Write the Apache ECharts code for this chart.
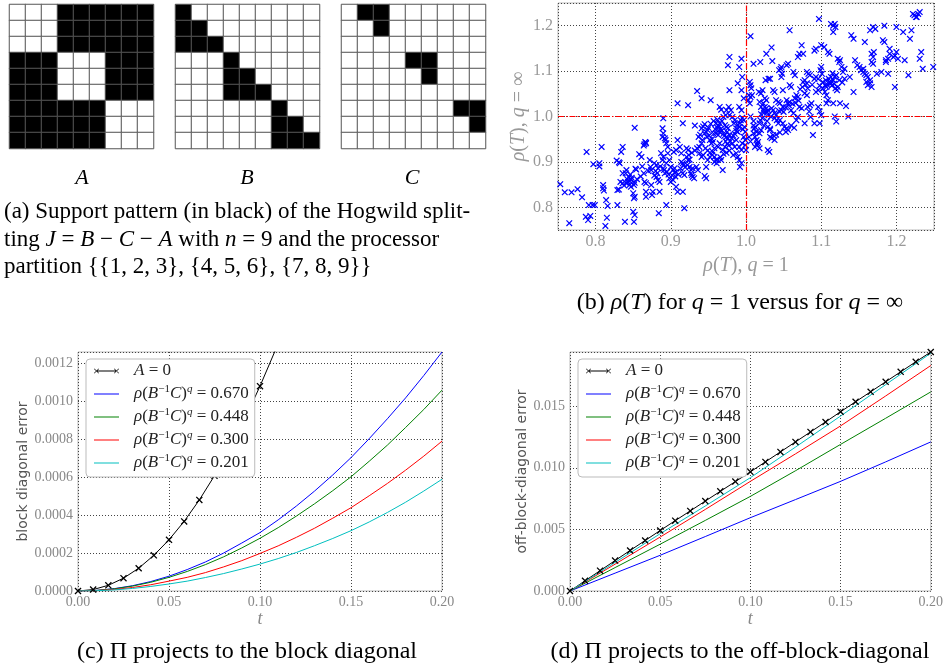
<!DOCTYPE html>
<html><head><meta charset="utf-8">
<script src="https://cdn.jsdelivr.net/npm/echarts@6/dist/echarts.min.js"></script>
<style>html,body{margin:0;padding:0;background:#fff}#c{width:946px;height:671px}</style>
</head><body><div id="c"></div>
<script>
// ---------- (a) support patterns ----------
const matA = ['000111111','000111111','000111111','111000111','111000111','111000111','111111000','111111000','111111000'];
const matB = ['100000000','110000000','111000000','000100000','000110000','000111000','000000100','000000110','000000111'];
const matC = ['011000000','001000000','000000000','000011000','000001000','000000000','000000011','000000001','000000000'];
const matrixIdx = ['1','2','3','4','5','6','7','8','9'];
const matrixNames = ['A','B','C'];

// ---------- (b) rho(T) scatter: [q=1, q=inf] ----------
const rhoLow = [[0.753,0.851],[0.759,0.833],[0.768,0.833],[0.765,0.765],[0.776,0.840],[0.782,0.822],[0.787,0.779],[0.790,0.772],[0.793,0.781],[0.788,0.922],[0.791,0.805],[0.796,0.805],[0.799,0.805],[0.797,0.895],[0.805,0.890],[0.805,0.897],[0.808,0.933],[0.810,0.849],[0.810,0.842],[0.811,0.837],[0.814,0.816],[0.816,0.803],[0.815,0.777],[0.813,0.759],
[0.828,0.903],[0.831,0.899],[0.832,0.897],[0.829,0.838],[0.831,0.839],[0.829,0.805],[0.834,0.922],[0.836,0.933],[0.836,0.875],[0.840,0.875],[0.833,0.856],[0.836,0.853],[0.840,0.854],[0.843,0.856],[0.839,0.768],[0.841,0.882],[0.844,0.867],[0.847,0.860],[0.845,0.849],[0.847,0.845],[0.851,0.849],[0.852,0.854],[0.850,0.831],[0.851,0.820],[0.852,0.823],[0.850,0.790],[0.852,0.783],[0.851,0.768],[0.852,0.975],[0.853,0.885],[0.854,0.883],
[0.858,0.917],[0.861,0.911],[0.864,0.936],[0.867,0.941],[0.867,0.942],[0.866,0.944],[0.865,0.939],[0.864,0.875],[0.865,0.856],[0.867,0.853],[0.867,0.834],[0.867,0.823],[0.872,0.904],[0.873,0.889],[0.874,0.882],[0.874,0.849],[0.875,0.827],[0.876,0.834],[0.878,0.897],[0.881,0.893],[0.881,0.867],[0.882,0.875],[0.883,0.886],[0.883,0.860],[0.885,0.856],[0.885,0.834],[0.884,0.787],[0.887,0.919],[0.889,0.904],[0.890,0.911]];
const rhoMidLow = [[0.889,0.974],[0.890,0.996],[0.890,0.963],[0.889,0.955],[0.892,0.952],[0.893,0.948],[0.890,0.886],[0.891,0.882],[0.892,0.875],[0.894,0.941],[0.896,0.933],[0.894,0.897],[0.896,0.919],[0.898,0.904],[0.898,0.864],[0.900,0.856],[0.903,0.860],[0.894,0.805],[0.900,0.889],[0.903,0.882],[0.905,0.886],[0.907,0.878],[0.905,0.876],[0.904,0.922],[0.907,0.926],[0.909,0.948],[0.907,0.845],[0.909,0.834],[0.912,0.933],[0.914,0.919],[0.914,0.900],[0.916,0.897],[0.917,0.893],[0.916,0.875],[0.918,0.871],[0.921,0.930],[0.923,0.926],[0.921,0.911],[0.923,0.904],[0.925,0.905],[0.925,0.889],[0.927,0.882],[0.929,0.886],[0.928,0.871],[0.929,0.867],[0.927,0.875],[0.931,0.864],[0.916,0.834],[0.918,0.798],[0.909,1.029],[0.923,1.025],[0.916,0.985]];
const rhoMid = [[0.932,0.980],[0.935,1.056],[0.941,1.040],[0.938,0.933],[0.941,0.941],[0.942,0.948],[0.938,0.919],[0.941,0.911],[0.943,0.915],[0.934,0.889],[0.936,0.882],[0.943,0.978],[0.945,0.983],[0.941,0.974],[0.945,0.963],[0.947,0.966],[0.949,0.970],[0.947,0.889],[0.949,0.904],[0.952,0.911],[0.945,0.869],[0.947,0.864],[0.953,1.036],[0.952,0.948],[0.954,0.941],[0.956,0.944],[0.956,0.922],[0.958,0.930],[0.958,0.911],[0.960,0.904],[0.961,0.897],[0.960,0.985],[0.963,0.981],[0.965,0.985],[0.960,0.963],[0.963,0.959],[0.965,0.966],[0.963,0.933],[0.965,0.941],[0.965,1.021],[0.967,1.015],[0.967,0.904],[0.969,0.882],[0.969,0.926],[0.972,0.933],[0.970,0.999],[0.973,1.003],[0.974,1.014],[0.972,0.981],[0.974,0.977],[0.976,0.974],[0.975,0.966],[0.974,0.955],[0.976,0.952],[0.978,0.959],[0.978,1.003],[0.980,1.014],[0.977,1.021],[0.978,1.058],[0.976,1.113],[0.978,1.131],[0.982,0.999],[0.985,0.992],[0.984,0.985],[0.982,0.941],[0.985,0.933],[0.987,0.948],[0.987,0.919],[0.989,0.911],[0.987,0.974],[0.989,0.966],[0.991,0.977],[0.989,1.073],[0.994,1.058],[0.991,1.109],[0.991,1.021],[0.994,1.014],[0.991,0.933],[0.994,0.926],[0.995,0.941],[0.994,1.127],[0.995,1.087],[0.991,0.904],[0.994,0.897],[0.992,0.889],[0.997,0.992],[0.998,0.977],[0.999,0.966],[0.997,0.955],[0.999,0.948],[0.997,1.040],[1.000,0.926],[0.999,0.937]];
const rhoMidHigh = [[1.006,1.177],[1.005,1.076],[1.006,1.069],[1.007,1.062],[1.004,1.047],[1.006,1.043],[1.008,1.047],[1.003,1.036],[1.005,1.029],[1.010,1.116],[1.010,0.980],[1.011,0.973],[1.012,0.977],[1.014,0.966],[1.010,0.963],[1.012,0.955],[1.014,0.948],[1.015,0.941],[1.016,0.944],[1.012,0.933],[1.015,0.937],[1.018,0.930],[1.019,1.120],[1.017,1.054],[1.020,1.051],[1.022,1.058],[1.018,0.985],[1.019,0.992],[1.022,0.996],[1.018,0.963],[1.020,0.970],[1.018,1.032],[1.023,1.029],[1.020,1.021],[1.023,1.014],[1.025,1.021],[1.027,1.018],[1.029,1.014],[1.025,1.040],[1.027,1.036],[1.026,1.080],[1.030,1.083],[1.032,1.083],[1.027,1.138],[1.029,0.977],[1.032,0.970],[1.032,0.973],[1.029,0.926],[1.031,0.922],[1.034,1.152],[1.035,1.122],[1.034,1.018],[1.036,1.014],[1.038,1.007],[1.032,0.955],[1.034,0.952],[1.036,0.959],[1.038,0.948],[1.036,1.058],[1.038,1.054],[1.038,0.996],[1.040,1.003],[1.041,0.992],[1.040,1.036],[1.043,1.032],[1.045,1.029],[1.043,0.985],[1.045,0.992],[1.044,1.102],[1.046,1.105],[1.047,1.109],[1.047,1.087],[1.048,1.094],[1.047,1.014],[1.049,1.021],[1.049,0.985],[1.051,0.977],[1.054,0.974],[1.053,0.966],[1.056,0.970],[1.049,1.058],[1.054,1.113],[1.056,1.116],[1.054,1.036],[1.056,1.029],[1.058,1.032],[1.058,1.190],[1.058,1.069],[1.060,1.065],[1.060,1.014],[1.063,1.007],[1.063,1.098],[1.065,1.091],[1.065,1.040],[1.067,1.047],[1.069,1.043],[1.069,1.131],[1.071,1.138],[1.074,1.157],[1.067,0.992],[1.069,0.999],[1.071,1.021],[1.074,1.018],[1.076,1.138],[1.078,0.985],[1.076,1.076],[1.078,1.080],[1.081,1.073],[1.078,1.051],[1.081,1.047],[1.081,1.098],[1.083,1.094],[1.085,1.091],[1.082,1.021],[1.085,1.025],[1.087,1.029],[1.084,1.011],[1.086,0.999],[1.089,0.959],[1.091,0.985]];
const rhoHigh = [[1.091,1.145],[1.093,1.149],[1.091,1.083],[1.093,1.087],[1.096,1.083],[1.093,1.054],[1.096,1.058],[1.096,1.021],[1.098,1.011],[1.097,1.215],[1.098,0.985],[1.100,1.003],[1.099,1.102],[1.100,1.109],[1.101,1.094],[1.100,1.157],[1.104,1.153],[1.102,1.076],[1.105,1.069],[1.107,1.065],[1.106,1.080],[1.105,1.054],[1.107,1.047],[1.107,1.029],[1.109,1.036],[1.110,1.083],[1.111,1.076],[1.113,1.087],[1.113,1.073],[1.116,1.080],[1.109,1.142],[1.111,1.138],[1.113,1.204],[1.116,1.200],[1.118,1.204],[1.119,1.197],[1.116,1.186],[1.116,1.029],[1.118,1.000],[1.118,1.087],[1.120,1.091],[1.119,1.062],[1.121,1.058],[1.122,1.065],[1.122,1.127],[1.124,1.120],[1.125,1.124],[1.125,1.029],[1.120,0.989],[1.127,1.109],[1.129,1.098],[1.131,1.105],[1.131,1.083],[1.133,1.023],[1.136,1.000],[1.138,1.087],[1.140,1.179],[1.143,1.171],[1.143,1.054],[1.145,1.124],[1.148,1.113],
[1.151,1.109],[1.153,1.102],[1.156,1.105],[1.156,1.098],[1.158,1.094],[1.160,1.091],[1.162,1.087],[1.165,1.080],[1.158,1.164],[1.160,1.076],[1.162,1.069],[1.165,1.073],[1.167,1.065],[1.165,1.190],[1.169,1.197],[1.172,1.193],[1.167,1.138],[1.169,1.131],[1.170,1.142],[1.167,1.120],[1.169,1.116],[1.174,1.094],[1.180,1.098],[1.182,1.168],[1.184,1.164],[1.184,1.200],[1.186,1.120],[1.186,1.124],[1.189,1.127],[1.191,1.138],[1.189,1.094],[1.191,1.149],[1.196,1.131],[1.198,1.134],[1.200,1.142],[1.202,1.127],[1.198,1.065],[1.200,1.197],[1.209,1.186],[1.211,1.124],[1.216,1.091],[1.218,1.171],[1.220,1.190],[1.222,1.226],[1.224,1.223],[1.226,1.219],[1.229,1.226],[1.231,1.230],[1.227,1.219],[1.231,1.127],[1.233,1.142],[1.235,1.105],[1.249,1.109]];
const rhoDense = [[0.948,0.955],[0.951,0.958],[0.955,0.950],[0.957,0.962],[0.959,0.972],[0.962,0.975],[0.964,0.978],[0.966,0.972],[0.968,0.969],[0.970,0.962],[0.971,0.957],[0.973,0.945],[0.975,0.940],[0.977,0.936],[0.979,0.945],[0.981,0.952],[0.983,0.958],[0.985,0.962],[0.987,0.968],[0.989,0.982],[0.992,0.985],[0.993,0.992],[0.995,0.997],[0.996,0.972],[0.968,0.990],[0.962,0.993],[0.957,0.990],[0.953,0.984],[0.950,0.975],[0.946,0.930],[0.949,0.925],[0.952,0.920],[0.955,0.915],[0.958,0.900],[0.962,0.905],[0.966,0.910],[0.970,0.918],[0.974,0.920],[0.978,0.925],[0.983,0.915],
[0.842,0.862],[0.845,0.858],[0.848,0.865],[0.838,0.848],[0.846,0.872],[0.855,0.862],[0.860,0.868],[0.862,0.890],[0.870,0.880],[0.878,0.870],[0.880,0.880],[0.886,0.890],[0.895,0.878],[0.897,0.872],[0.902,0.870],[0.906,0.868],[0.910,0.872],[0.913,0.885],[0.919,0.888],[0.922,0.893],[0.924,0.915],[0.928,0.920],[0.932,0.925],[0.935,0.930],[0.937,0.955],[0.939,0.960],
[1.020,1.005],[1.024,1.008],[1.028,1.010],[1.030,1.003],[1.033,1.000],[1.028,0.990],[1.024,0.980],[1.044,1.012],[1.050,1.010],[1.053,1.020],[1.057,1.025],[1.062,1.028],[1.066,1.030],[1.070,1.035],[1.072,1.060],[1.075,1.065],[1.079,1.070],[1.082,1.062],[1.088,1.070],[1.098,1.068],[1.102,1.062],[1.108,1.070],[1.112,1.075],[1.114,1.068],[1.117,1.072],[1.115,1.095],[1.124,1.080],[1.128,1.075],[1.060,0.980],[1.064,0.975],[1.040,0.960],[1.045,0.965],[1.010,0.990],[1.006,1.000],[1.004,0.955],[1.006,0.945]];
const rhoRef = 1.0;
const rhoTicks = ['0.8','0.9','1.0','1.1','1.2'];

// ---------- (c) block diagonal error ----------
const tMarked = [0,0.00833,0.01667,0.025,0.03333,0.04167,0.05,0.05833,0.06667,0.075,0.08333,0.09167,0.1,0.10833,0.11667,0.125,0.13333,0.14167,0.15,0.15833,0.16667,0.175,0.18333,0.19167,0.2];
const blockA0 = [0,0.0000075,0.00003,0.0000675,0.00012,0.000188,0.00027,0.000367,0.00048,0.000608,0.00075,0.000907,0.00108,0.001267];
const tC = [0,0.01,0.02,0.03,0.04,0.05,0.06,0.07,0.08,0.09,0.1,0.11,0.12,0.13,0.14,0.15,0.16,0.17,0.18,0.19,0.2];
const block670 = [0,0.0000031,0.0000125,0.000028,0.00005,0.000078,0.000113,0.000153,0.0002,0.000253,0.000308,0.000375,0.000448,0.000527,0.000612,0.000703,0.000803,0.000908,0.001018,0.001136,0.00126];
const block448 = [0,0.0000029,0.0000116,0.000026,0.000046,0.000072,0.000103,0.000139,0.00018,0.000227,0.000278,0.000334,0.000395,0.00046,0.000529,0.000602,0.000684,0.000769,0.000862,0.000957,0.001059];
const block300 = [0,0.0000021,0.0000083,0.0000185,0.000033,0.000052,0.000072,0.000097,0.000127,0.00016,0.000198,0.000238,0.000283,0.000331,0.000384,0.000439,0.000502,0.000567,0.000637,0.000711,0.00079];
const block201 = [0,0.0000015,0.000006,0.0000135,0.000024,0.000037,0.000052,0.000071,0.000092,0.000116,0.000142,0.000171,0.000203,0.000239,0.000277,0.000318,0.000364,0.000414,0.000468,0.000527,0.000589];

// ---------- (d) off-block-diagonal error ----------
const offA0 = [0,0.00083,0.00165,0.00247,0.00329,0.0041,0.00491,0.00571,0.0065,0.0073,0.00809,0.00888,0.00967,0.01048,0.01129,0.0121,0.01291,0.01372,0.01455,0.01536,0.01617,0.01698,0.01779,0.0186,0.0194];
const tD = [0,0.025,0.05,0.075,0.1,0.125,0.15,0.175,0.2];
const off670 = [0,0.00145,0.0029,0.00442,0.00595,0.00742,0.0089,0.01048,0.0121];
const off448 = [0,0.0019,0.0038,0.00573,0.00768,0.00976,0.0119,0.01402,0.01616];
const off300 = [0,0.00218,0.00438,0.00662,0.0089,0.01113,0.0134,0.01583,0.0183];
const off201 = [0,0.00232,0.00465,0.0069,0.0092,0.01168,0.0142,0.01675,0.0193];

const legendKeys = ['A0','r670','r448','r300','r201'];
const legendLabels = {
  A0: '{i|A}{r| = 0}',
  r670: '{i|ρ}{r|(}{i|B}{s|−1}{i|C}{r|)}{si|q}{r| = 0.670}',
  r448: '{i|ρ}{r|(}{i|B}{s|−1}{i|C}{r|)}{si|q}{r| = 0.448}',
  r300: '{i|ρ}{r|(}{i|B}{s|−1}{i|C}{r|)}{si|q}{r| = 0.300}',
  r201: '{i|ρ}{r|(}{i|B}{s|−1}{i|C}{r|)}{si|q}{r| = 0.201}'
};
const lineColors = {r670:'#0000ff', r448:'#008000', r300:'#ff0000', r201:'#00bfbf'};

// ---------- build ----------
const SERIF = 'Liberation Serif';
const X_SYM = 'path://M0,1.3L1.3,0L10,8.7L8.7,10Z M0,8.7L8.7,0L10,1.3L1.3,10Z';
const X_LINE_ICON = 'path://M0,0.4L0.4,0L5,4.6L4.6,5Z M0,4.6L4.6,0L5,0.4L0.4,5Z M20,0.4L20.4,0L25,4.6L24.6,5Z M20,4.6L24.6,0L25,0.4L20.4,5Z M2.5,2.1L22.5,2.1L22.5,2.9L2.5,2.9Z';
const LINE_ICON = 'path://M0,0L25,0L25,1L0,1Z';

function cells(m){const d=[];m.forEach((row,r)=>{for(let c=0;c<9;c++)d.push([c,r,+row[c]]);});return d;}
function pairs(xs,ys){return ys.map((y,i)=>[xs[i],y]);}

const grids = [
  {left:9.5,top:4.5,width:144,height:144},
  {left:175.5,top:4.5,width:144,height:144},
  {left:341.5,top:4.5,width:144,height:144},
  {left:558,top:3,width:376,height:227, show:true, borderColor:'#bbb', borderWidth:1},
  {left:78,top:352,width:364,height:239, show:true, borderColor:'#bbb', borderWidth:1},
  {left:570,top:352,width:364,height:239, show:true, borderColor:'#bbb', borderWidth:1}
];
grids.forEach(g=>{ if(!g.show){g.show=false;} g.containLabel=false; });

const gridLine = {show:true, lineStyle:{color:'#444', width:1, type:[1,2]}};
const richName = (size,color)=>({
  i:{fontFamily:SERIF,fontStyle:'italic',fontSize:size,color:color},
  r:{fontFamily:SERIF,fontSize:size,color:color}
});

const xAxes = [], yAxes = [];
for(let k=0;k<3;k++){
  xAxes.push({gridIndex:k,type:'category',data:matrixIdx,axisLine:{show:false},axisTick:{show:false},axisLabel:{show:false},splitLine:{show:false}});
  yAxes.push({gridIndex:k,type:'category',data:matrixIdx,inverse:true,axisLine:{show:false},axisTick:{show:false},axisLabel:{show:false},splitLine:{show:false}});
}
const tenth = v => Math.abs(v*10-Math.round(v*10))<1e-6 && rhoTicks.indexOf(v.toFixed(1))>=0 ? v.toFixed(1) : '';
xAxes.push({gridIndex:3,type:'value',min:0.75,max:1.25,splitNumber:5,minInterval:0.1,maxInterval:0.1,
  axisLine:{show:false},axisTick:{show:false},splitLine:gridLine,
  axisLabel:{formatter:tenth,color:'#999',fontFamily:SERIF,fontSize:16,margin:4},
  name:'{i|ρ}{r|(}{i|T}{r|), }{i|q}{r| = 1}',nameLocation:'middle',nameGap:26,
  nameTextStyle:{fontFamily:SERIF,fontSize:20,color:'#999',rich:richName(20,'#999')}});
yAxes.push({gridIndex:3,type:'value',min:0.75,max:1.25,splitNumber:5,minInterval:0.1,maxInterval:0.1,
  axisLine:{show:false},axisTick:{show:false},splitLine:gridLine,
  axisLabel:{formatter:tenth,color:'#999',fontFamily:SERIF,fontSize:16,margin:5},
  name:'{i|ρ}{r|(}{i|T}{r|), }{i|q}{r| = ∞}',nameLocation:'middle',nameRotate:90,nameGap:22,
  nameTextStyle:{fontFamily:SERIF,fontSize:20,color:'#999',rich:richName(20,'#999')}});

function tAxis(gi){
  return {gridIndex:gi,type:'value',min:0,max:0.2,interval:0.05,
    axisLine:{show:false},axisTick:{show:false},splitLine:gridLine,
    axisLabel:{formatter:v=>v.toFixed(2),color:'#888',fontFamily:SERIF,fontSize:14,margin:4},
    name:'t',nameLocation:'middle',nameGap:19,
    nameTextStyle:{fontFamily:SERIF,fontStyle:'italic',fontSize:18,color:'#888'}};
}
xAxes.push(tAxis(4)); xAxes.push(tAxis(5));
yAxes.push({gridIndex:4,type:'value',min:0,max:0.00126,interval:0.0002,
  axisLine:{show:false},axisTick:{show:false},splitLine:gridLine,
  axisLabel:{formatter:v=>v.toFixed(4),color:'#888',fontFamily:SERIF,fontSize:14,margin:5,showMaxLabel:false},
  name:'block diagonal error',nameLocation:'middle',nameRotate:90,nameGap:45,
  nameTextStyle:{fontFamily:'DejaVu Sans',fontSize:14,color:'#555'}});
yAxes.push({gridIndex:5,type:'value',min:0,max:0.0194,interval:0.005,
  axisLine:{show:false},axisTick:{show:false},splitLine:gridLine,
  axisLabel:{formatter:v=>v.toFixed(3),color:'#888',fontFamily:SERIF,fontSize:14,margin:5,showMaxLabel:false},
  name:'off-block-diagonal error',nameLocation:'middle',nameRotate:90,nameGap:39,
  nameTextStyle:{fontFamily:'DejaVu Sans',fontSize:14,color:'#555'}});

const series = [];
[matA,matB,matC].forEach((m,k)=>{
  series.push({type:'heatmap',name:'mat'+matrixNames[k],xAxisIndex:k,yAxisIndex:k,data:cells(m),
    itemStyle:{borderColor:'#555',borderWidth:1},emphasis:{disabled:true},silent:true});
});
const rhoAll = [].concat(rhoLow,rhoMidLow,rhoMid,rhoDense,rhoMidHigh,rhoHigh);
series.push({type:'scatter',name:'rho',xAxisIndex:3,yAxisIndex:3,data:rhoAll,symbol:X_SYM,symbolSize:6.5,
  itemStyle:{color:'#0000ff',opacity:1},silent:true,
  markLine:{silent:true,symbol:['none','none'],label:{show:false},
    lineStyle:{color:'#ff0000',width:1.2,type:[6,2,1.5,2]},
    data:[{xAxis:rhoRef},{yAxis:rhoRef}]}});

function blackLine(gi,data){
  return {type:'line',name:'A0',xAxisIndex:gi,yAxisIndex:gi,data:data,symbol:X_SYM,symbolSize:7,showSymbol:true,
    lineStyle:{color:'#000',width:1},itemStyle:{color:'#000',borderWidth:0},clip:true,silent:true,z:3};
}
function colorLine(gi,key,data){
  return {type:'line',name:key,xAxisIndex:gi,yAxisIndex:gi,data:data,symbol:'none',
    lineStyle:{color:lineColors[key],width:1},itemStyle:{color:lineColors[key]},clip:true,silent:true};
}
series.push(blackLine(4,pairs(tMarked,blockA0)));
series.push(colorLine(4,'r670',pairs(tC,block670)));
series.push(colorLine(4,'r448',pairs(tC,block448)));
series.push(colorLine(4,'r300',pairs(tC,block300)));
series.push(colorLine(4,'r201',pairs(tC,block201)));
series.push(blackLine(5,pairs(tMarked,offA0)));
series.push(colorLine(5,'r670',pairs(tD,off670)));
series.push(colorLine(5,'r448',pairs(tD,off448)));
series.push(colorLine(5,'r300',pairs(tD,off300)));
series.push(colorLine(5,'r201',pairs(tD,off201)));

const legRich = {
  i:{fontFamily:SERIF,fontStyle:'italic',fontSize:17,color:'#222',lineHeight:20},
  r:{fontFamily:SERIF,fontSize:17,color:'#222',lineHeight:20},
  s:{fontFamily:SERIF,fontSize:11,color:'#222',verticalAlign:'top'},
  si:{fontFamily:SERIF,fontStyle:'italic',fontSize:11,color:'#222',verticalAlign:'top'}
};
function legend(left){
  return {orient:'vertical',left:left,top:359,itemWidth:25,itemHeight:5,itemGap:3,padding:[2,6,4,8],
    backgroundColor:'#fff',borderColor:'#bbb',borderWidth:1,borderRadius:4,selectedMode:false,
    itemStyle:{borderWidth:0},
    data:legendKeys.map(k=>k==='A0'?{name:k,icon:X_LINE_ICON}:{name:k,icon:LINE_ICON}),
    formatter:n=>legendLabels[n],
    textStyle:{fontFamily:SERIF,fontSize:17,color:'#222',lineHeight:20,padding:[0,0,0,10],rich:legRich}};
}

const capRich = {i:{fontFamily:SERIF,fontStyle:'italic',fontSize:23,color:'#000'}};
const capRich24 = {i:{fontFamily:SERIF,fontStyle:'italic',fontSize:24,color:'#000'}};
function txt(x,y,text,align,opts){
  return {type:'text',x:x,y:y,silent:true,style:Object.assign({text:text,fill:'#000',fontFamily:SERIF,fontSize:23,
    textAlign:align,align:align,textVerticalAlign:'middle',verticalAlign:'middle',rich:capRich},opts||{})};
}
const graphics = [
  txt(82,178,'A','center',{fontStyle:'italic',fontSize:22}),
  txt(247,178,'B','center',{fontStyle:'italic',fontSize:22}),
  txt(412,178,'C','center',{fontStyle:'italic',fontSize:22}),
  txt(4,212,'(a) Support pattern (in black) of the Hogwild split-','left'),
  txt(4,240,'ting {i|J} = {i|B} − {i|C} − {i|A} with {i|n} = 9 and the processor','left'),
  {type:'text',x:4,y:267,silent:true,style:{text:'partition {{1, 2, 3}, {4, 5, 6}, {7, 8, 9}}',fill:'#000',fontFamily:SERIF,fontSize:23,textAlign:'left',align:'left',textVerticalAlign:'middle',verticalAlign:'middle'}},
  txt(740,303,'(b) {i|ρ}({i|T}) for {i|q} = 1 versus for {i|q} = ∞','center',{fontSize:24,rich:capRich24}),
  txt(247,652,'(c) Π projects to the block diagonal','center',{fontSize:24}),
  txt(740,652,'(d) Π projects to the off-block-diagonal','center',{fontSize:24})
];

const chart = echarts.init(document.getElementById('c'),null,{renderer:'canvas'});
chart.setOption({
  animation:false,
  backgroundColor:'#fff',
  textStyle:{fontFamily:SERIF},
  grid:grids,
  xAxis:xAxes,
  yAxis:yAxes,
  visualMap:{type:'piecewise',show:false,seriesIndex:[0,1,2],dimension:2,
    pieces:[{value:1,color:'#000000'},{value:0,color:'#ffffff'}]},
  legend:[legend(86),legend(578)],
  series:series,
  graphic:graphics
});
</script></body></html>
